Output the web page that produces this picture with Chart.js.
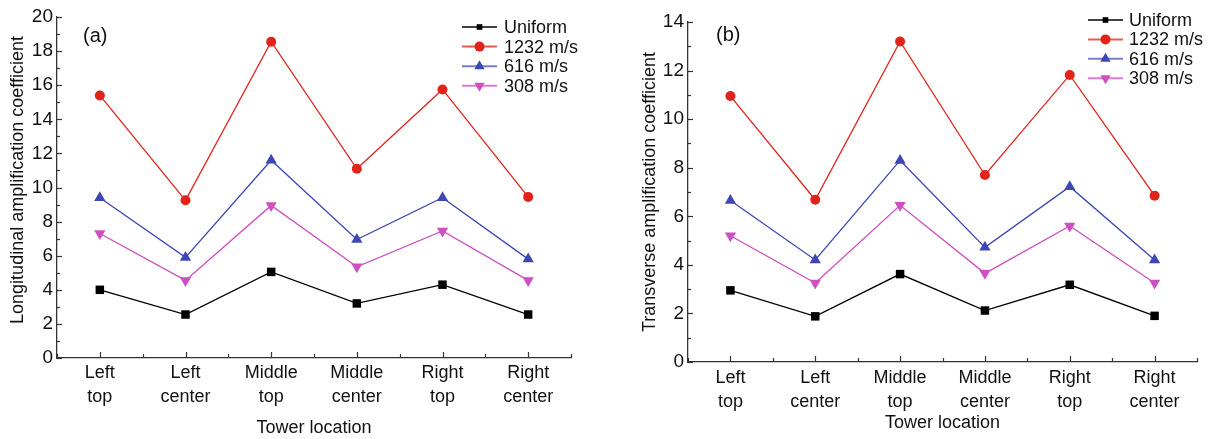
<!DOCTYPE html>
<html><head><meta charset="utf-8">
<script src="https://cdn.jsdelivr.net/npm/chart.js@4.4.1/dist/chart.umd.min.js"></script>
<style>
body{margin:0;background:#fff;width:1214px;height:439px;overflow:hidden;position:relative}
canvas{position:absolute;top:0}
</style></head>
<body>
<canvas id="ca" width="607" height="439" style="left:0"></canvas>
<canvas id="cb" width="607" height="439" style="left:607px"></canvas>
<script>
// ---- data ----
const categories = [['Left','top'],['Left','center'],['Middle','top'],['Middle','center'],['Right','top'],['Right','center']];
const seriesNames = ['Uniform','1232 m/s','616 m/s','308 m/s'];
const longUniform = [4.0, 2.55, 5.05, 3.2, 4.3, 2.55];
const long1232    = [15.4, 9.25, 18.55, 11.1, 15.75, 9.45];
const long616     = [9.4, 5.9, 11.6, 6.95, 9.4, 5.8];
const long308     = [7.3, 4.55, 8.95, 5.35, 7.45, 4.55];
const transUniform = [2.95, 1.88, 3.62, 2.12, 3.18, 1.9];
const trans1232    = [10.95, 6.68, 13.2, 7.7, 11.82, 6.85];
const trans616     = [6.65, 4.2, 8.3, 4.72, 7.22, 4.2];
const trans308     = [5.2, 3.25, 6.45, 3.65, 5.6, 3.25];
const yMaxA = 20, yStepA = 2;
const yMaxB = 14, yStepB = 2;
const titleA = 'Longitudinal amplification coefficient';
const titleB = 'Transverse amplification coefficient';
const xTitle = 'Tower location';

// ---- styles ----
const FONT = "Arial, 'Liberation Sans', sans-serif";
const colors = ['#000000', '#e2231a', '#3f47b4', '#d04fc0'];
const legendLineColors = ['#000000', 'rgba(226,35,26,0.75)', 'rgba(63,71,180,0.7)', 'rgba(208,79,192,0.75)'];
const styles = [
  {pointStyle:'rect', rotation:0, radius:6},
  {pointStyle:'circle', rotation:0, radius:5},
  {pointStyle:'triangle', rotation:0, radius:6.5},
  {pointStyle:'triangle', rotation:180, radius:6.5}
];

function makeDatasets(arrs){
  return arrs.map((d,i)=>({
    label: seriesNames[i], data: d,
    borderColor: colors[i], backgroundColor: colors[i],
    borderWidth: 1.3,
    pointStyle: styles[i].pointStyle, pointRotation: styles[i].rotation,
    pointRadius: styles[i].radius, pointBorderWidth: 0,
    pointBackgroundColor: colors[i], tension: 0
  }));
}

const deco = {
  id: 'deco',
  afterDraw(chart, args, o){
    const ctx = chart.ctx;
    const xs = chart.scales.x, ys = chart.scales.y;
    ctx.save();
    ctx.strokeStyle = '#333'; ctx.lineWidth = 1.2;
    // y ticks inward
    for (let v = 0; v <= ys.max + 1e-9; v += 1) {
      const p = Math.round(ys.getPixelForValue(v)) + 0.5;
      const len = (v % 2 === 0) ? 5 : 3;
      ctx.beginPath(); ctx.moveTo(xs.left, p); ctx.lineTo(xs.left + len, p); ctx.stroke();
    }
    // x ticks inward
    const n = categories.length;
    for (let i = 0; i < n; i++) {
      const p = Math.round(xs.getPixelForValue(i)) + 0.5;
      ctx.beginPath(); ctx.moveTo(p, ys.bottom); ctx.lineTo(p, ys.bottom - 6); ctx.stroke();
    }
    for (let i = 0; i <= n; i++) {
      const p = Math.round(xs.getPixelForValue(i - 0.5)) + 0.5;
      ctx.beginPath(); ctx.moveTo(p, ys.bottom); ctx.lineTo(p, ys.bottom - 4); ctx.stroke();
    }
    // y title
    ctx.fillStyle = '#111'; ctx.font = '18px ' + FONT;
    ctx.textAlign = 'center'; ctx.textBaseline = 'middle';
    ctx.save();
    ctx.translate(o.yTitleX, o.yTitleY); ctx.rotate(-Math.PI / 2);
    ctx.fillText(o.yTitle, 0, 0);
    ctx.restore();
    // panel label
    ctx.fillStyle = '#111'; ctx.font = '20px ' + FONT;
    ctx.textBaseline = 'middle'; ctx.textAlign = 'left';
    ctx.fillText(o.label, o.labelX, o.labelY);
    // legend
    ctx.font = '18px ' + FONT;
    seriesNames.forEach((name, i) => {
      const y = o.legendY + i * o.legendGap;
      ctx.strokeStyle = legendLineColors[i]; ctx.lineWidth = i === 0 ? 1.4 : 2;
      ctx.beginPath(); ctx.moveTo(o.legendX1, y); ctx.lineTo(o.legendX2, y); ctx.stroke();
      ctx.fillStyle = colors[i];
      const r = i === 0 ? 4 : (i === 1 ? 5 : 6);
      Chart.helpers.drawPoint(ctx, {pointStyle: styles[i].pointStyle, rotation: styles[i].rotation, radius: r, borderWidth: 0}, (o.legendX1 + o.legendX2) / 2, y);
      ctx.fillStyle = '#111';
      ctx.fillText(name, o.textX, y + 1);
    });
    ctx.restore();
  }
};

function makeChart(id, arrs, yMax, yStep, yTitle, cfg){
  cfg.deco.yTitle = yTitle;
  return new Chart(document.getElementById(id), {
    type: 'line',
    data: { labels: categories, datasets: makeDatasets(arrs) },
    plugins: [deco],
    options: {
      responsive: false, animation: false, devicePixelRatio: 1,
      layout: { padding: { top: cfg.padTop, right: cfg.padRight, left: 0, bottom: 0 } },
      plugins: { legend: { display: false }, tooltip: { enabled: false }, deco: cfg.deco },
      scales: {
        x: {
          type: 'category', offset: true,
          grid: { display: true, drawOnChartArea: false, drawTicks: false, offset: true },
          border: { display: true, color: '#333', width: 1.3 },
          ticks: { color: '#111', font: { family: FONT, size: 18, lineHeight: 1.28 }, padding: cfg.xTickPad, maxRotation: 0, autoSkip: false },
          title: { display: true, text: xTitle, color: '#111', font: { family: FONT, size: 18 }, padding: { top: 0, bottom: cfg.xTitlePad } },
          afterFit: s => { s.height = cfg.xHeight; }
        },
        y: {
          min: 0, max: yMax,
          grid: { display: true, drawOnChartArea: false, drawTicks: false },
          border: { display: true, color: '#333', width: 1.3 },
          ticks: { stepSize: yStep, color: '#111', font: { family: FONT, size: 19 }, padding: 4 },
          title: { display: false },
          afterFit: s => { s.width = cfg.yWidth; }
        }
      }
    }
  });
}

makeChart('ca', [longUniform, long1232, long616, long308], yMaxA, yStepA, titleA, {
  padTop: 17, padRight: 36, xHeight: 81, yWidth: 57, xTickPad: 4, xTitlePad: 0,
  deco: { yTitleX: 18, yTitleY: 180, label: '(a)', labelX: 83, labelY: 36, legendX1: 462, legendX2: 497, textX: 504, legendY: 27, legendGap: 19.6 }
});
makeChart('cb', [transUniform, trans1232, trans616, trans308], yMaxB, yStepB, titleB, {
  padTop: 22, padRight: 17, xHeight: 77, yWidth: 81, xTickPad: 5, xTitlePad: 5,
  deco: { yTitleX: 43, yTitleY: 192, label: '(b)', labelX: 109, labelY: 35, legendX1: 481, legendX2: 516, textX: 522, legendY: 20, legendGap: 19.4 }
});
</script>
</body></html>
